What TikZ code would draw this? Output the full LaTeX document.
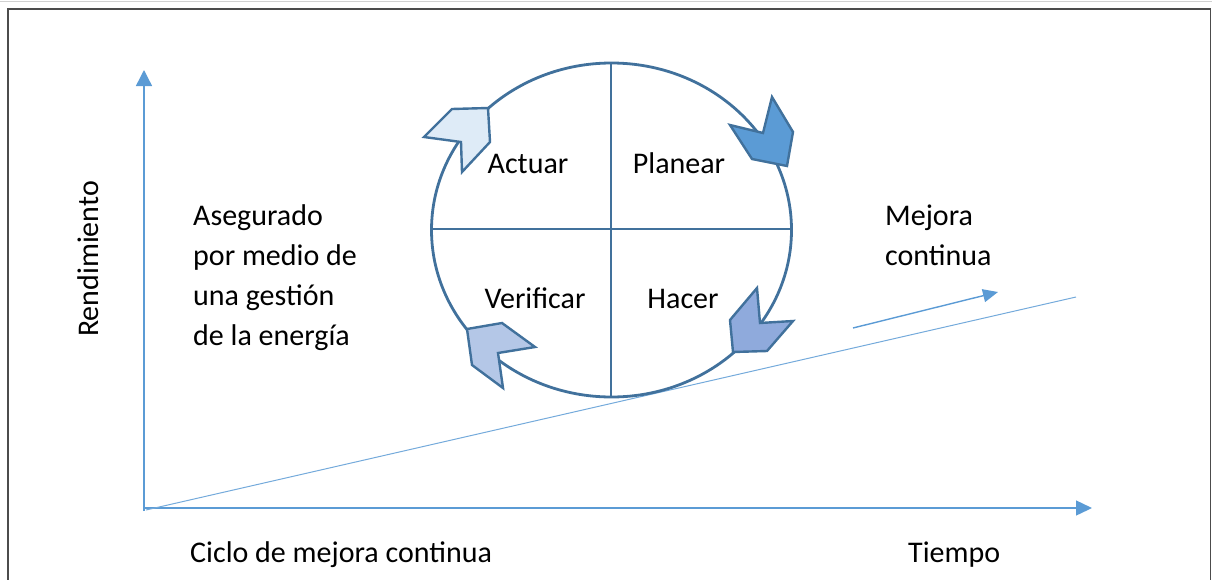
\documentclass[tikz,border=0pt]{standalone}
\usepackage{fontspec}
\setmainfont{Carlito}
\usetikzlibrary{arrows.meta}
\definecolor{cline}{HTML}{41719C}
\definecolor{axisc}{HTML}{5B9BD5}
\definecolor{fA}{HTML}{DEEBF7}
\definecolor{fP}{HTML}{5B9BD5}
\definecolor{fV}{HTML}{B4C7E7}
\definecolor{fH}{HTML}{8FAADC}
\begin{document}
\begin{tikzpicture}[x=1pt,y=-1pt,
  lbl/.style={font=\fontsize{30}{40}\selectfont, inner sep=0pt, text=black},
  ring/.style={draw=cline, line width=2.8pt},
  chev/.style={draw=cline, line width=2.4pt, line join=miter},
  axisline/.style={draw=axisc, line width=1.4pt}]
\useasboundingbox (0,0) rectangle (1212,579);
% frame
\draw[black!18, line width=1pt] (0,1) -- (1212,1);
\draw[black!70, line width=1.5pt] (8,590) -- (8,9) -- (1210.5,9) -- (1210.5,590);
% axes
\coordinate (orig) at (144,511);
\coordinate (ytip) at (144,70);
\coordinate (xorig) at (143,508);
\coordinate (xtip) at (1092,508);
\draw[axisline, -{Triangle[length=16pt,width=16pt]}] (orig) -- (ytip);
\draw[axisline, -{Triangle[length=16pt,width=15pt]}] (xorig) -- (xtip);
% trend line
\coordinate (t0) at (146,510);
\coordinate (t1) at (1076,297);
\draw[draw=axisc!85, line width=1pt] (t0) -- (t1);
\coordinate (m0) at (853,328);
\coordinate (m1) at (998,292);
\draw[axisline, -{Triangle[length=15pt,width=13pt]}] (m0) -- (m1);
% cycle
\draw[ring] (611.5,230) ellipse [x radius=180pt, y radius=167pt];
\draw[ring] (611,63) -- (611,397);
\draw[ring] (431.5,229) -- (791.5,229);
% chevrons
\filldraw[chev, fill=fA] (424,137) -- (452,109) -- (488,108) -- (490,142) -- (462,172) -- (461,142) -- cycle;
\filldraw[chev, fill=fP] (772,97) -- (793,132) -- (787,166) -- (752,159) -- (730,125) -- (763,133) -- cycle;
\filldraw[chev, fill=fV] (467,329) -- (502,323) -- (535,347) -- (498,353) -- (503,388) -- (472,365) -- cycle;
\filldraw[chev, fill=fH] (757,288) -- (760,323) -- (793,321) -- (767,351) -- (733,352) -- (730,320) -- cycle;
% labels
\node[lbl, anchor=base] (actuar) at (528,173) {Actuar};
\node[lbl, anchor=base] (planear) at (679,173) {Planear};
\node[lbl, anchor=base] (verificar) at (535,308) {Verificar};
\node[lbl, anchor=base] (hacer) at (683,308) {Hacer};
\node[lbl, anchor=base west] (as1) at (193,225) {Asegurado};
\node[lbl, anchor=base west] (as2) at (193,265) {por medio de};
\node[lbl, anchor=base west] (as3) at (193,305) {una gestión};
\node[lbl, anchor=base west] (as4) at (193,345) {de la energía};
\node[lbl, anchor=base west] (mc1) at (885,225) {Mejora};
\node[lbl, anchor=base west] (mc2) at (885,265) {continua};
\node[lbl, anchor=base, rotate=90] (rend) at (98,259) {Rendimiento};
\node[lbl, anchor=base west] (ciclo) at (190,562) {Ciclo de mejora continua};
\node[lbl, anchor=base west] (tiempo) at (908,562) {Tiempo};
\end{tikzpicture}
\end{document}
